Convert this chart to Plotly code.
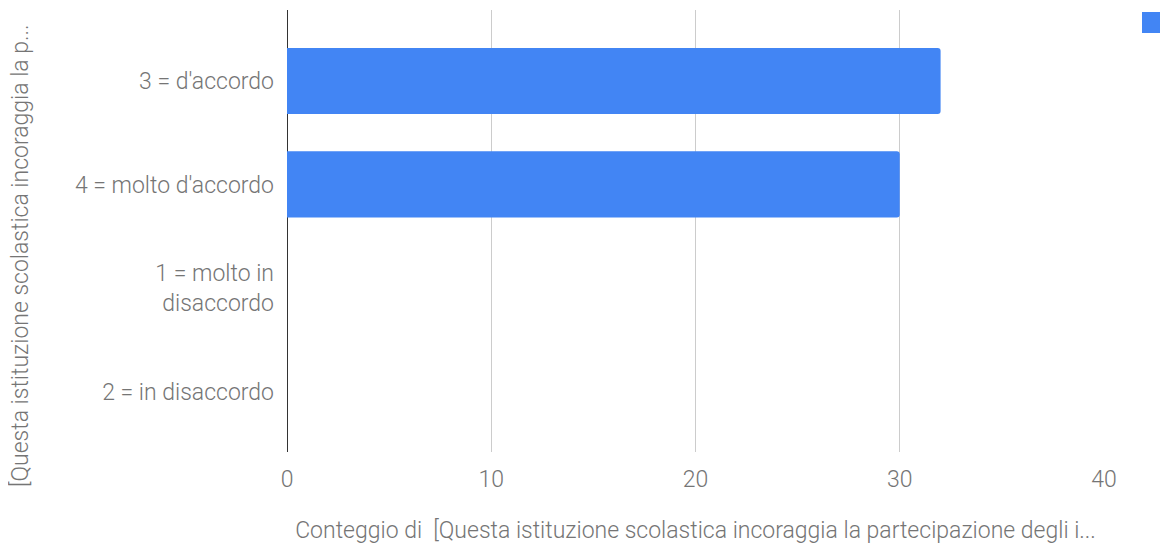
import plotly.graph_objects as go

categories = ["3 = d'accordo", "4 = molto d'accordo", "1 = molto in<br>disaccordo", "2 = in disaccordo"]
counts = [32, 30, 0, 0]
x_ticks = [0, 10, 20, 30, 40]
x_title = "Conteggio di  [Questa istituzione scolastica incoraggia la partecipazione degli i..."
y_title = "[Questa istituzione scolastica incoraggia la p..."

# page body has an 8px margin; figure coordinates are screen coordinates minus 8
OFF = 8
W, H = 1152, 536
L, T = 287 - OFF, 10 - OFF
PR, PB = 1104 - OFF, 452 - OFF
R, B = W - PR, H - PB
PW, PH = PR - L, PB - T

def px(sx):
    return (sx - OFF - L) / PW

def py(sy):
    return 1 - (sy - OFF - T) / PH

font = "Roboto, Arial, sans-serif"
grey = "#757575"
FS = 23
WT = 300

fig = go.Figure()
fig.add_trace(go.Bar(
    x=counts, y=categories, orientation="h",
    marker=dict(color="#4285F4", cornerradius=3, line=dict(width=0)),
    width=0.64, showlegend=False,
))

fig.update_layout(
    width=W, height=H,
    margin=dict(l=L, r=R, t=T, b=B, pad=0),
    plot_bgcolor="white", paper_bgcolor="white",
    font=dict(family=font, size=FS, color=grey, weight=WT),
    xaxis=dict(
        range=[0, 40], tickvals=x_ticks, showgrid=True, gridcolor="#cccccc", gridwidth=1,
        zeroline=True, zerolinecolor="#333333", zerolinewidth=1,
        showline=False, ticks="", tickfont=dict(size=FS, color=grey, weight=WT),
        ticklabelstandoff=11,
        title=dict(text=x_title, font=dict(size=FS, color=grey, weight=WT), standoff=32),
    ),
    yaxis=dict(
        range=[3.585, -0.686], showgrid=False, zeroline=False, showline=False, ticks="",
        tickfont=dict(size=FS, color=grey, weight=WT), ticklabelstandoff=12,
        type="category", autorange=False,
    ),
    annotations=[dict(
        text=y_title, textangle=-90, xref="paper", yref="paper",
        x=px(20), y=py(256),
        showarrow=False, xanchor="center", yanchor="middle",
        font=dict(size=FS, color=grey, family=font, weight=WT),
    )],
    shapes=[dict(
        type="rect", xref="paper", yref="paper",
        x0=px(1142), x1=px(1163), y0=py(33), y1=py(12),
        fillcolor="#4285F4", line=dict(width=0),
    )],
)

fig.write_html("out.html")
